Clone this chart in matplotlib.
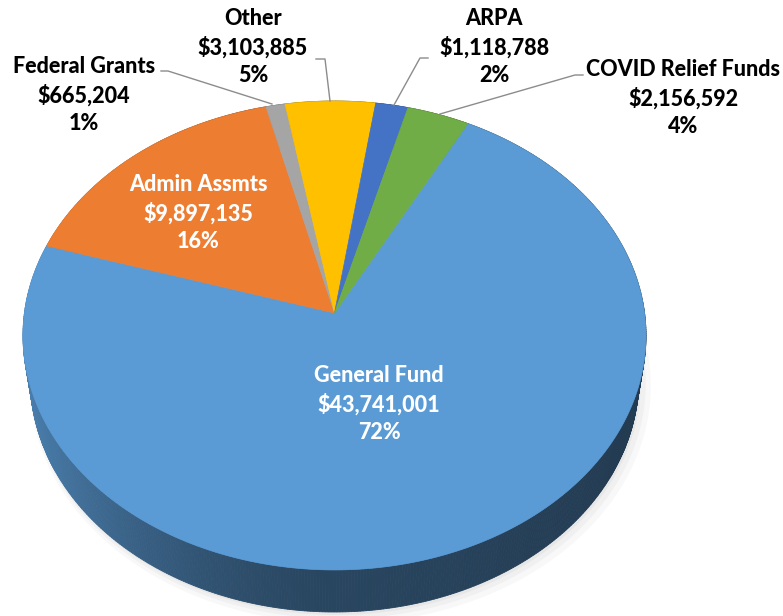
import numpy as np
import matplotlib
matplotlib.use("Agg")
import matplotlib.pyplot as plt
from matplotlib.patches import Polygon
from matplotlib.colors import to_rgb

# ---------------- data ----------------
categories = ["General Fund", "Admin Assmts", "Federal Grants", "Other", "ARPA", "COVID Relief Funds"]
amount_labels = ["$43,741,001", "$9,897,135", "$665,204", "$3,103,885", "$1,118,788", "$2,156,592"]
values = [43741001, 9897135, 665204, 3103885, 1118788, 2156592]
percent_labels = ["72%", "16%", "1%", "5%", "2%", "4%"]
colors = ["#5B9BD5", "#ED7D31", "#A5A5A5", "#FFC000", "#4472C4", "#70AD47"]

# ---------------- figure ----------------
W, H = 783, 616
fig = plt.figure(figsize=(W / 100, H / 100), dpi=100)
ax = fig.add_axes([0, 0, 1, 1])
ax.set_xlim(0, W)
ax.set_ylim(H, 0)
ax.axis("off")

# perspective projection of a unit-radius pie (z=0 top face, z=-DEPTH bottom)
CX, CY = 334.5, 313.0
A, B, C, G, E, DEPTH = 310.07, 232.3, 0.0959, 205.4, -0.1084, 0.2197


def project(u, v, z):
    d = 1 + C * v + E * z
    return CX + A * u / d, CY - (B * v + G * z) / d


first_angle = 62.2  # degrees; slices run clockwise
vals = np.array(values, float)
frac = vals / vals.sum()
ends = first_angle - 360 * np.cumsum(frac)
starts = ends + 360 * frac


def shade(rgb, theta):
    ct = np.cos(np.radians(theta))
    f = 0.45 + 0.38 * max(0.0, -ct) ** 1.5 - 0.07 * max(0.0, ct)
    return tuple(np.clip(np.array(rgb) * f, 0, 1))


# soft shadow
tt = np.linspace(0, 360, 361)
for dx, dy, s, al in [(6, 6, 1.02, 0.05), (4, 4, 1.01, 0.06), (2, 3, 1.0, 0.08)]:
    u = np.cos(np.radians(tt)) * s
    v = np.sin(np.radians(tt)) * s
    x, y = project(u, v, -DEPTH)
    ax.add_patch(Polygon(np.column_stack([x + dx, y + dy]), closed=True,
                         facecolor="#808080", edgecolor="none", alpha=al, zorder=1))

# side wall
quads = []
for i in range(len(values)):
    n = max(2, int(abs(starts[i] - ends[i]) / 0.5) + 1)
    th = np.linspace(starts[i], ends[i], n)
    for k in range(n - 1):
        t1, t2 = th[k], th[k + 1]
        u1, v1 = np.cos(np.radians(t1)), np.sin(np.radians(t1))
        u2, v2 = np.cos(np.radians(t2)), np.sin(np.radians(t2))
        p = [project(u1, v1, 0), project(u2, v2, 0), project(u2, v2, -DEPTH), project(u1, v1, -DEPTH)]
        quads.append(((v1 + v2) / 2, p, shade(to_rgb(colors[i]), (t1 + t2) / 2)))
quads.sort(key=lambda q: -q[0])
for _, p, col in quads:
    ax.add_patch(Polygon(p, closed=True, facecolor=col, edgecolor=col, linewidth=0.6, zorder=2))

# top face
for i in range(len(values)):
    n = max(2, int(abs(starts[i] - ends[i]) / 0.5) + 1)
    th = np.radians(np.linspace(starts[i], ends[i], n))
    x, y = project(np.cos(th), np.sin(th), 0)
    v0 = project(0, 0, 0)
    pts = np.vstack([[v0[0], v0[1]], np.column_stack([x, y])])
    ax.add_patch(Polygon(pts, closed=True, facecolor=colors[i], edgecolor=colors[i],
                         linewidth=0.5, zorder=3))

# ---------------- labels ----------------
FONT = dict(family="Lato", weight="black", fontsize=15.5, ha="center", va="center",
            linespacing=1.38, zorder=5)
label_pos = [(379, 404, "white"), (198, 213, "white"), (84, 95, "black"),
             (253, 47, "black"), (494, 47, "black"), (683, 98, "black")]
for i, (lx, ly, tc) in enumerate(label_pos):
    ax.text(lx, ly, f"{categories[i]}\n{amount_labels[i]}\n{percent_labels[i]}", color=tc, **FONT)

# leader lines
leaders = [
    [(161, 71), (168, 71), (272, 104)],
    [(316, 59), (325, 59), (330, 101)],
    [(428, 58), (420, 58), (394, 105)],
    [(583, 75), (575, 75), (440, 114)],
]
for pts in leaders:
    xs, ys = zip(*pts)
    ax.plot(xs, ys, color="#8C8C8C", linewidth=1.0, zorder=4)

fig.savefig("out.png", dpi=100)
